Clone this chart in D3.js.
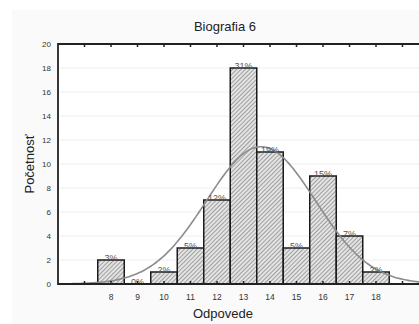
<!DOCTYPE html>
<html lang="en">
<head>
<meta charset="UTF-8" />
<title>Biografia 6</title>
<script src="https://d3js.org/d3.v7.min.js"></script>
<style>
  body { margin: 0; background: #fff; }
  svg { display: block; font-family: "Liberation Sans", Arial, sans-serif; }
</style>
</head>
<body>
<script>
// histogram data
const answers = [8, 9, 10, 11, 12, 13, 14, 15, 16, 17, 18];
const counts = [2, 0, 1, 3, 7, 18, 11, 3, 9, 4, 1];
const percents = ["3%", "0%", "2%", "5%", "12%", "31%", "19%", "5%", "15%", "7%", "2%"];
const yTicks = [0, 2, 4, 6, 8, 10, 12, 14, 16, 18, 20];

var W = 419, H = 324;
var svg = d3.select("body").append("svg").attr("width", W).attr("height", H);

svg.append("rect").attr("x", 12).attr("y", 10).attr("width", W - 12).attr("height", H - 10)
  .attr("fill", "#fafafa");

var x = d3.scaleLinear().domain([6, 20]).range([58, 429]);
var y = d3.scaleLinear().domain([0, 20]).range([284, 44]);

// hatch pattern
var pat = svg.append("defs").append("pattern")
  .attr("id", "hatch").attr("patternUnits", "userSpaceOnUse")
  .attr("width", 3).attr("height", 3)
  .attr("patternTransform", "rotate(45)");
pat.append("rect").attr("width", 3).attr("height", 3).attr("fill", "#e4e4e4");
pat.append("line").attr("x1", 0).attr("y1", 0).attr("x2", 0).attr("y2", 3)
  .attr("stroke", "#707070").attr("stroke-width", 1.2);

svg.append("rect").attr("x", 58).attr("y", 44).attr("width", W - 58).attr("height", 240)
  .attr("fill", "#fff");

// faint grid
svg.append("g").selectAll("line").data(yTicks.slice(1, -1)).join("line")
  .attr("x1", 58).attr("x2", W).attr("y1", d => y(d)).attr("y2", d => y(d))
  .attr("stroke", "#eeeeee").attr("stroke-width", 1);

// bars
svg.append("g").selectAll("rect").data(answers).join("rect")
  .attr("x", d => x(d - 0.5))
  .attr("width", x(1) - x(0))
  .attr("y", (d, i) => y(counts[i]))
  .attr("height", (d, i) => y(0) - y(counts[i]))
  .attr("fill", "url(#hatch)")
  .attr("stroke", "#1a1a1a").attr("stroke-width", 1.5);

// normal fit from the data
var n = d3.sum(counts);
var mean = d3.sum(answers, (d, i) => d * counts[i]) / n;
var sd = Math.sqrt(d3.sum(answers, (d, i) => counts[i] * (d - mean) * (d - mean)) / (n - 1));
var xs = d3.range(6, 20.01, 0.1);
var line = d3.line()
  .x(d => x(d))
  .y(d => y(n / (sd * Math.sqrt(2 * Math.PI)) * Math.exp(-0.5 * Math.pow((d - mean) / sd, 2))))
  .curve(d3.curveBasis);
svg.append("path").datum(xs).attr("d", line)
  .attr("fill", "none").attr("stroke", "#8c8c8c").attr("stroke-width", 1.6);

// percent labels
svg.append("g").selectAll("text").data(answers).join("text")
  .attr("x", d => x(d))
  .attr("y", (d, i) => y(counts[i]) + 0.5)
  .attr("text-anchor", "middle")
  .attr("font-size", 9).attr("fill", "#555")
  .text((d, i) => percents[i]);

// frame lines
svg.append("line").attr("x1", 58).attr("x2", W).attr("y1", 44).attr("y2", 44)
  .attr("stroke", "#222").attr("stroke-width", 1.8);
svg.append("line").attr("x1", 58).attr("x2", W).attr("y1", 284).attr("y2", 284)
  .attr("stroke", "#222").attr("stroke-width", 1.8);
svg.append("line").attr("x1", 58).attr("x2", 58).attr("y1", 43).attr("y2", 285)
  .attr("stroke", "#222").attr("stroke-width", 1.8);

// small tick marks, top and bottom
var tickVals = d3.range(7, 20);
svg.append("g").selectAll("line").data(tickVals).join("line")
  .attr("x1", d => x(d)).attr("x2", d => x(d)).attr("y1", 44).attr("y2", 47)
  .attr("stroke", "#222").attr("stroke-width", 1.5);
svg.append("g").selectAll("line").data(tickVals).join("line")
  .attr("x1", d => x(d)).attr("x2", d => x(d)).attr("y1", 281).attr("y2", 284)
  .attr("stroke", "#222").attr("stroke-width", 1.5);

// axis labels
svg.append("g").selectAll("text").data(yTicks).join("text")
  .attr("x", 51).attr("y", d => y(d) + 3)
  .attr("text-anchor", "end").attr("font-size", 8).attr("fill", "#333")
  .text(d => d);

svg.append("g").selectAll("text").data(answers).join("text")
  .attr("x", d => x(d)).attr("y", 300)
  .attr("text-anchor", "middle").attr("font-size", 8.5).attr("fill", "#333")
  .text(d => d);

svg.append("text").attr("x", 225).attr("y", 31)
  .attr("text-anchor", "middle").attr("font-size", 13).attr("fill", "#222")
  .text("Biografia 6");

svg.append("text").attr("x", 223).attr("y", 318)
  .attr("text-anchor", "middle").attr("font-size", 13).attr("fill", "#222")
  .text("Odpovede");

svg.append("text")
  .attr("transform", "translate(34,164) rotate(-90)")
  .attr("text-anchor", "middle").attr("font-size", 13).attr("fill", "#222")
  .text("Početnosť");
</script>
</body>
</html>
